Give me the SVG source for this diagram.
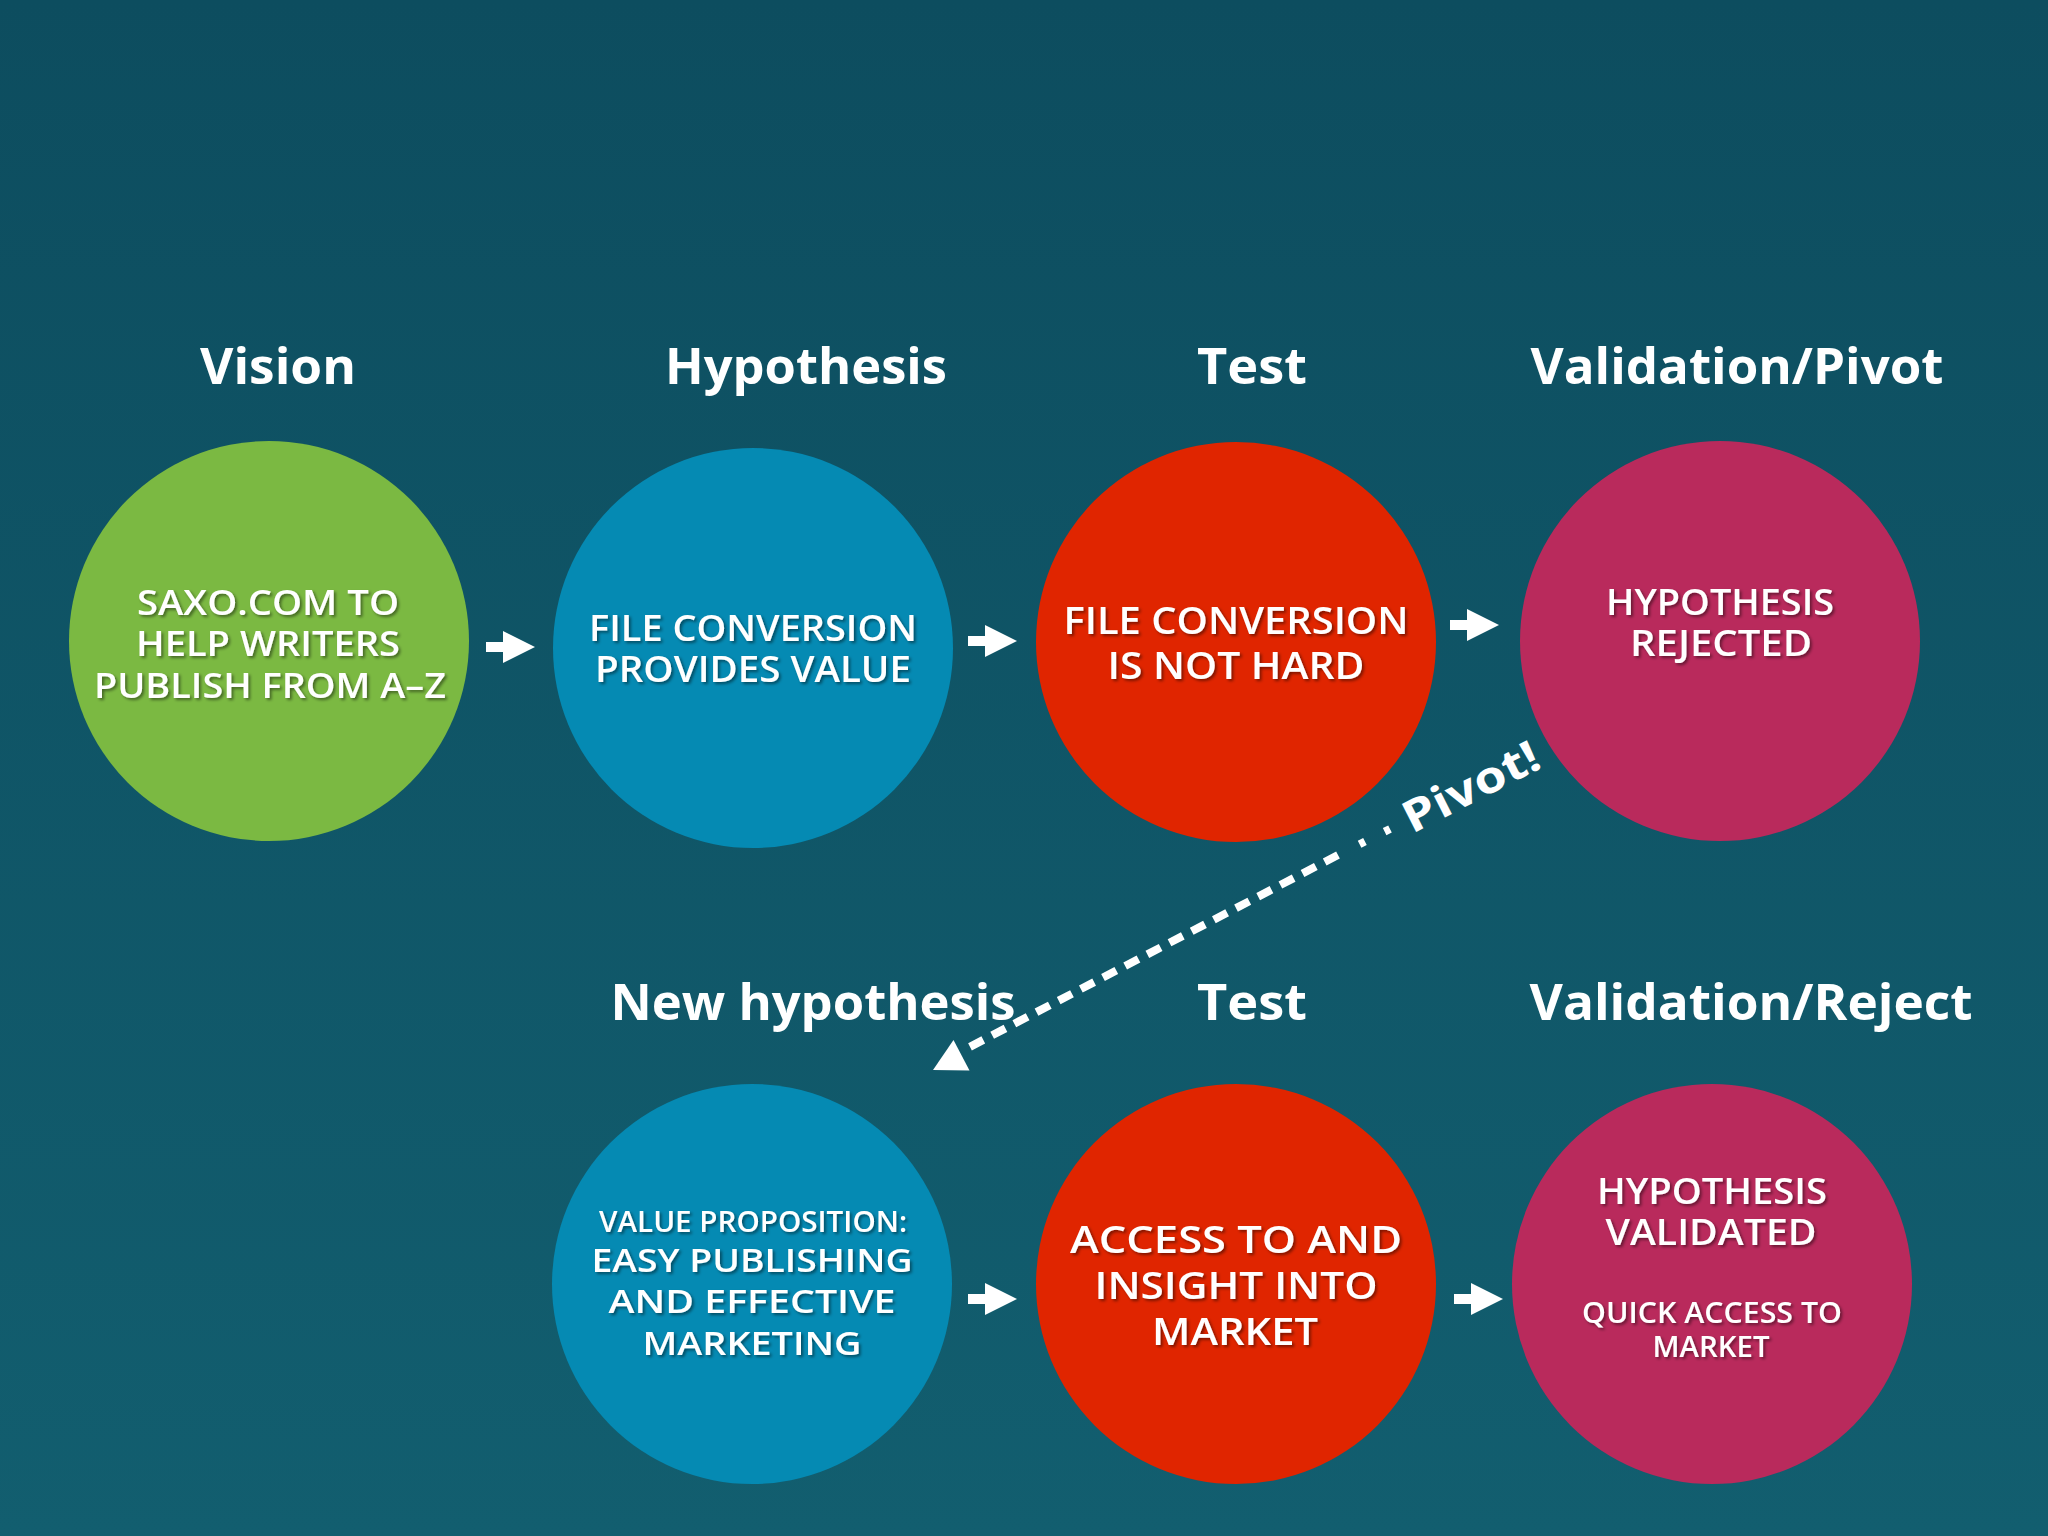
<svg xmlns="http://www.w3.org/2000/svg" width="2048" height="1536" viewBox="0 0 2048 1536">
<defs>
<linearGradient id="bg" x1="0" y1="0" x2="0" y2="1">
<stop offset="0" stop-color="#0d4d5f"/>
<stop offset="1" stop-color="#125e6f"/>
</linearGradient>
<filter id="sh" x="-10%" y="-30%" width="120%" height="160%">
<feDropShadow dx="2" dy="2" stdDeviation="1.6" flood-color="#000" flood-opacity="0.45"/>
</filter>
<path id="blk" d="M0,-5 H17 V-16 L49,0 L17,16 V5 H0 Z"/>
<style>
.title{font-family:"Open Sans","DejaVu Sans",sans-serif;font-weight:700;font-size:50px;fill:#fff;text-anchor:middle}
.nt{font-family:"Open Sans","DejaVu Sans",sans-serif;font-weight:600;fill:#fff;text-anchor:middle;filter:url(#sh)}
.green{fill:#7bb942}
.blue{fill:#058ab3}
.red{fill:#e02500}
.mag{fill:#b92a5c}
.arr{fill:#fff}
.dash{fill:none;stroke:#fff;stroke-width:8}
</style>
</defs>
<rect width="2048" height="1536" fill="url(#bg)"/>

<g id="titles">
<text class="title" x="278" y="384" textLength="156" lengthAdjust="spacingAndGlyphs">Vision</text>
<text class="title" x="806" y="384" textLength="282" lengthAdjust="spacingAndGlyphs">Hypothesis</text>
<text class="title" x="1252" y="384" textLength="110" lengthAdjust="spacingAndGlyphs">Test</text>
<text class="title" x="1737" y="384" textLength="413" lengthAdjust="spacingAndGlyphs">Validation/Pivot</text>
<text class="title" x="813" y="1020" textLength="405" lengthAdjust="spacingAndGlyphs">New hypothesis</text>
<text class="title" x="1252" y="1020" textLength="110" lengthAdjust="spacingAndGlyphs">Test</text>
<text class="title" x="1751" y="1020" textLength="443" lengthAdjust="spacingAndGlyphs">Validation/Reject</text>
</g>

<g id="node-vision">
<circle class="green" cx="269" cy="641" r="200"/>
<text class="nt" font-size="34"><tspan x="268" y="615" textLength="262" lengthAdjust="spacingAndGlyphs">SAXO.COM TO</tspan><tspan x="268" y="656" textLength="264" lengthAdjust="spacingAndGlyphs">HELP WRITERS</tspan><tspan x="270" y="698" textLength="352" lengthAdjust="spacingAndGlyphs">PUBLISH FROM A–Z</tspan></text>
</g>

<g id="node-hypothesis">
<circle class="blue" cx="753" cy="648" r="200"/>
<text class="nt" font-size="36"><tspan x="753" y="641" textLength="328" lengthAdjust="spacingAndGlyphs">FILE CONVERSION</tspan><tspan x="753" y="682" textLength="316" lengthAdjust="spacingAndGlyphs">PROVIDES VALUE</tspan></text>
</g>

<g id="node-test">
<circle class="red" cx="1236" cy="642" r="200"/>
<text class="nt" font-size="37"><tspan x="1236" y="634" textLength="345" lengthAdjust="spacingAndGlyphs">FILE CONVERSION</tspan><tspan x="1236" y="679" textLength="257" lengthAdjust="spacingAndGlyphs">IS NOT HARD</tspan></text>
</g>

<g id="node-rejected">
<circle class="mag" cx="1720" cy="641" r="200"/>
<text class="nt" font-size="36"><tspan x="1720" y="615" textLength="228" lengthAdjust="spacingAndGlyphs">HYPOTHESIS</tspan><tspan x="1721" y="656" textLength="182" lengthAdjust="spacingAndGlyphs">REJECTED</tspan></text>
</g>

<g id="node-new-hypothesis">
<circle class="blue" cx="752" cy="1284" r="200"/>
<text class="nt"><tspan x="753" y="1232" font-size="28" textLength="308" lengthAdjust="spacingAndGlyphs">VALUE PROPOSITION:</tspan><tspan x="752" y="1272" font-size="33" textLength="321" lengthAdjust="spacingAndGlyphs">EASY PUBLISHING</tspan><tspan x="752" y="1313" font-size="33" textLength="287" lengthAdjust="spacingAndGlyphs">AND EFFECTIVE</tspan><tspan x="752" y="1355" font-size="33" textLength="219" lengthAdjust="spacingAndGlyphs">MARKETING</tspan></text>
</g>

<g id="node-test2">
<circle class="red" cx="1236" cy="1284" r="200"/>
<text class="nt" font-size="38"><tspan x="1236" y="1253" textLength="332" lengthAdjust="spacingAndGlyphs">ACCESS TO AND</tspan><tspan x="1236" y="1299" textLength="283" lengthAdjust="spacingAndGlyphs">INSIGHT INTO</tspan><tspan x="1235" y="1345" textLength="166" lengthAdjust="spacingAndGlyphs">MARKET</tspan></text>
</g>

<g id="node-validated">
<circle class="mag" cx="1712" cy="1284" r="200"/>
<text class="nt"><tspan x="1712" y="1204" font-size="36" textLength="230" lengthAdjust="spacingAndGlyphs">HYPOTHESIS</tspan><tspan x="1711" y="1245" font-size="36" textLength="211" lengthAdjust="spacingAndGlyphs">VALIDATED</tspan><tspan x="1712" y="1323" font-size="28" textLength="260" lengthAdjust="spacingAndGlyphs">QUICK ACCESS TO</tspan><tspan x="1711" y="1357" font-size="28" textLength="117" lengthAdjust="spacingAndGlyphs">MARKET</tspan></text>
</g>

<g id="connectors">
<use href="#blk" class="arr" x="486" y="647"/>
<use href="#blk" class="arr" x="968" y="641"/>
<use href="#blk" class="arr" x="1450" y="625"/>
<use href="#blk" class="arr" x="968" y="1299"/>
<use href="#blk" class="arr" x="1454" y="1299"/>
<path class="dash" d="M1390,829 L1352,848" stroke-dasharray="6 22"/>
<path class="dash" d="M1338,855 L962,1051" stroke-dasharray="15 10"/>
<polygon class="arr" points="933,1070 953.5,1040 969.5,1070.5"/>
<text transform="translate(1412,834) rotate(-27)" font-family="'Open Sans','DejaVu Sans',sans-serif" font-weight="700" font-size="44" fill="#fff" textLength="148" lengthAdjust="spacingAndGlyphs">Pivot!</text>
</g>
</svg>
